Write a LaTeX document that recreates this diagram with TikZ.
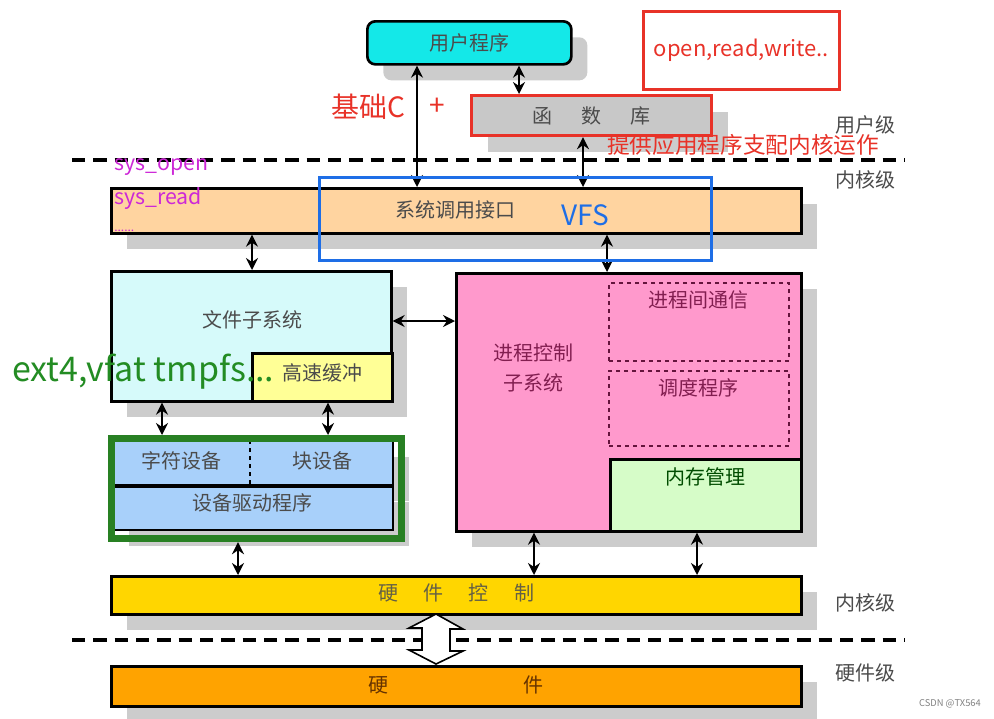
\documentclass[tikz,border=0pt]{standalone}
\usepackage{fontspec}
\setmainfont{Noto Sans CJK SC}
\usetikzlibrary{arrows.meta,shadows}
\newlength\pxu \setlength\pxu{0.75pt}
\definecolor{ucyan}{RGB}{20,232,232}
\definecolor{libgray}{RGB}{200,200,200}
\definecolor{shgray}{RGB}{204,204,204}
\definecolor{peach}{RGB}{255,212,160}
\definecolor{fscyan}{RGB}{214,250,250}
\definecolor{cacheyel}{RGB}{255,255,150}
\definecolor{devblue}{RGB}{168,208,250}
\definecolor{pcpink}{RGB}{255,153,204}
\definecolor{memgreen}{RGB}{214,252,200}
\definecolor{hwcyel}{RGB}{255,214,0}
\definecolor{hworange}{RGB}{255,163,0}
\definecolor{txtgray}{RGB}{75,75,75}
\definecolor{annred}{RGB}{232,50,40}
\definecolor{annmag}{RGB}{205,40,215}
\definecolor{annblue}{RGB}{30,110,230}
\definecolor{anngreen}{RGB}{35,140,35}
\definecolor{grpgreen}{RGB}{40,128,35}
\definecolor{pctxt}{RGB}{130,30,80}
\definecolor{dashpur}{RGB}{100,20,60}
\begin{document}
\begin{tikzpicture}[x=0.75pt,y=-0.75pt,
  box/.style={draw=black, line width=2pt, anchor=north west, inner sep=0pt},
  shad/.style={drop shadow={shadow xshift=16\pxu, shadow yshift=-16\pxu, fill=shgray, opacity=1}},
  lbl/.style={text=txtgray, font=\fontsize{15}{18}\selectfont, inner sep=0pt},
  dbl/.style={{Stealth[length=9pt,width=9pt,inset=3pt]}-{Stealth[length=9pt,width=9pt,inset=3pt]}, line width=1.9pt},
  sep/.style={dash pattern=on 10pt off 6pt, line width=2.4pt},
  lvl/.style={text=txtgray, font=\fontsize{15}{18}\selectfont, inner sep=0pt},
  ann/.style={inner sep=0pt, anchor=west}]
\useasboundingbox (0,0) rectangle (994,718);

% separators
\draw[sep] (72,160) coordinate (s1a) -- (905,160) coordinate (s1b);
\draw[sep] (72,640) coordinate (s2a) -- (905,640) coordinate (s2b);

% boxes
\node[box, shad, fill=ucyan, rounded corners=6pt, minimum width=204\pxu, minimum height=43\pxu] (user) at (366,20) {};
\node[lbl] at (user.center) {用户程序};
\node[box, shad, fill=libgray, draw=annred, line width=2.4pt, minimum width=240\pxu, minimum height=40\pxu] (lib) at (470,94) {};
\node[lbl] at (lib.center) {函\hspace{22pt}数\hspace{22pt}库};
\node[box, shad, fill=peach, minimum width=690\pxu, minimum height=45\pxu] (sci) at (110,187) {};
\node[lbl] at (455,210) {系统调用接口};

\node[box, shad, fill=fscyan, minimum width=280\pxu, minimum height=130\pxu] (fs) at (110,270) {};
\node[lbl] at (252,320) {文件子系统};
\node[box, fill=cacheyel, minimum width=140\pxu, minimum height=48\pxu] (cache) at (251,352) {};
\node[lbl] at (322,373) {高速缓冲};

\node[box, shad, fill=devblue, line width=1.6pt, minimum width=280\pxu, minimum height=44\pxu] (devtop) at (112,440) {};
\node[box, shad, fill=devblue, line width=1.6pt, minimum width=280\pxu, minimum height=44\pxu] (drv) at (112,485) {};
\draw[line width=2.4pt] (devtop.south west) -- (devtop.south east);
\draw[dashed, line width=1.4pt] (250,440) coordinate (dv1) -- (250,484) coordinate (dv2);
\node[lbl] at (181,461) {字符设备};
\node[lbl] at (322,461) {块设备};
\node[lbl] at (252,503) {设备驱动程序};
\node[draw=grpgreen, line width=5.4pt, anchor=north west, inner sep=0pt, minimum width=290\pxu, minimum height=100\pxu] (grp) at (107.5,435) {};

\node[box, shad, fill=pcpink, minimum width=345\pxu, minimum height=258\pxu] (pc) at (455,272) {};
\node[lbl, text=pctxt] at (533,353) {进程控制};
\node[lbl, text=pctxt] at (533,383) {子系统};
\node[box, draw=dashpur, dashed, line width=1.5pt, minimum width=180\pxu, minimum height=78\pxu] (ipc) at (608,282) {};
\node[lbl, text=pctxt, anchor=north] at (698,290) {进程间通信};
\node[box, draw=dashpur, dashed, line width=1.5pt, minimum width=180\pxu, minimum height=75\pxu] (sch) at (608,370) {};
\node[lbl, text=pctxt, anchor=north] at (698,378) {调度程序};
\node[box, fill=memgreen, minimum width=191\pxu, minimum height=72\pxu] (mem) at (609,458) {};
\node[lbl, text=black!70!green, anchor=north] at (705,467) {内存管理};

\node[box, shad, fill=hwcyel, minimum width=690\pxu, minimum height=38\pxu] (hwc) at (110,575) {};
\node[lbl, text=black!70!yellow] at (456,593) {硬\hspace{19pt}件\hspace{19pt}控\hspace{19pt}制};
\node[box, shad, fill=hworange, minimum width=690\pxu, minimum height=40\pxu] (hw) at (110,665) {};
\node[lbl, text=black!60!orange] at (378,685) {硬};
\node[lbl, text=black!60!orange] at (533,685) {件};

% connector x positions
\coordinate (xa) at (417,0);
\coordinate (xb) at (519,0);
\coordinate (xc) at (583,0);
\coordinate (xd) at (252,0);
\coordinate (xe) at (607,0);
\coordinate (xf) at (162,0);
\coordinate (xg) at (328,0);
\coordinate (xh) at (238,0);
\coordinate (xi) at (534,0);
\coordinate (xj) at (697,0);
\coordinate (yk) at (0,321);

\draw[dbl] (user.south -| xa) -- (sci.north -| xa);
\draw[dbl] (user.south -| xb) -- (lib.north -| xb);
\draw[dbl] (lib.south -| xc) -- (sci.north -| xc);
\draw[dbl] (sci.south -| xd) -- (fs.north -| xd);
\draw[dbl] (sci.south -| xe) -- (pc.north -| xe);
\draw[dbl] (fs.east |- yk) -- (pc.west |- yk);
\draw[dbl] (fs.south -| xf) -- (grp.north -| xf);
\draw[dbl] (cache.south -| xg) -- (grp.north -| xg);
\draw[dbl] (grp.south -| xh) -- (hwc.north -| xh);
\draw[dbl] (pc.south -| xi) -- (hwc.north -| xi);
\draw[dbl] (mem.south -| xj) -- (hwc.north -| xj);

% hollow double arrow
\coordinate (ht) at (436,614);
\coordinate (hb) at (436,664);
\draw[line width=1.2pt, fill=white]
  (ht) -- ++(27,15) -- ++(-13,0) -- ++(0,22) -- ++(13,0) -- (hb)
  -- ++(-27,-14) -- ++(13,0) -- ++(0,-22) -- ++(-13,0) -- cycle;

% level labels
\node[lvl] at (865,125) {用户级};
\node[lvl] at (865,180) {内核级};
\node[lvl] at (865,603) {内核级};
\node[lvl] at (865,673) {硬件级};

% annotations
\node[draw=annred, line width=2.2pt, anchor=north west, inner sep=0pt, minimum width=196\pxu, minimum height=78\pxu] (orw) at (642,10) {};
\node[text=annred, inner sep=0pt, font=\fontsize{16.5}{20}\selectfont] at (orw.center) {open,read,write..};
\node[ann, text=annred, font=\fontsize{21}{24}\selectfont] at (331,107) {基础C};
\node[text=annred, inner sep=0pt, font=\fontsize{21}{24}\selectfont] at (437,107) {+};
\node[ann, text=annred, font=\fontsize{17}{20}\selectfont] at (607,145) {提供应用程序支配内核运作};
\node[ann, text=annmag, font=\fontsize{16}{19}\selectfont] at (114,167) {sys\_open};
\node[ann, text=annmag, font=\fontsize{16}{19}\selectfont] at (114,198) {sys\_read};
\node[ann, text=annmag, font=\fontsize{9}{10}\selectfont] at (114,231) {......};
\node[draw=annblue, line width=1.9pt, anchor=north west, inner sep=0pt, minimum width=392\pxu, minimum height=83\pxu] (vfs) at (318,176) {};
\node[text=annblue, inner sep=0pt, font=\fontsize{21}{24}\selectfont] at (585,215) {VFS};
\node[ann, text=anngreen, font=\fontsize{25.5}{30}\selectfont] at (12,372) {ext4,vfat tmpfs...};
\node[text=gray, inner sep=0pt, font=\fontsize{7}{8}\selectfont] at (950,704) {CSDN @TX564};
\end{tikzpicture}
\end{document}
